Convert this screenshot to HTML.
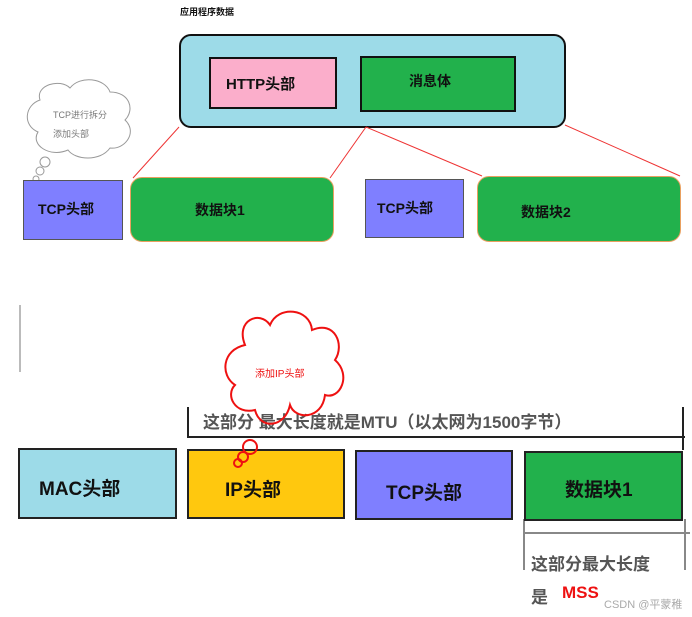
<!DOCTYPE html>
<html><head><meta charset="utf-8"><style>
body{margin:0;width:692px;height:617px;background:#fff;position:relative;overflow:hidden;font-family:"Liberation Sans","Noto Sans CJK SC",sans-serif;font-weight:bold}
.a{position:absolute;box-sizing:border-box}
.t{position:absolute;white-space:nowrap}
</style></head><body>
<div class="t" style="left:180px;top:5px;font-size:9px;color:#111">应用程序数据</div>
<div class="a" style="left:179px;top:34px;width:387px;height:94px;background:#9ddbe8;border:2px solid #111;border-radius:12px"></div>
<div class="a" style="left:209px;top:57px;width:128px;height:52px;background:#fbaecb;border:2px solid #111"></div>
<div class="t" style="left:226px;top:73px;font-size:15px;color:#111">HTTP头部</div>
<div class="a" style="left:360px;top:56px;width:156px;height:56px;background:#22b14c;border:2px solid #111"></div>
<div class="t" style="left:409px;top:71px;font-size:14px;color:#111">消息体</div>

<svg class="a" style="left:0;top:0" width="692" height="617">
<g stroke="#e33" stroke-width="1" fill="none">
<line x1="179" y1="127" x2="133" y2="178"/><line x1="366" y1="127" x2="330" y2="178"/>
<line x1="366" y1="127" x2="482" y2="176"/><line x1="565" y1="125" x2="680" y2="176"/>
</g>
<g fill="#fff" stroke="#999" stroke-width="1">
<path d="M40,100 C35,85 60,78 70,88 C80,75 105,78 110,92 C130,92 135,110 125,120 C138,132 125,150 110,148 C100,162 75,160 68,150 C50,158 30,145 38,132 C22,125 25,105 40,100 Z"/>
<circle cx="45" cy="162" r="5"/><circle cx="40" cy="171" r="4"/><circle cx="36" cy="179" r="3"/>
</g>
<g stroke="#222" stroke-width="2" fill="none">
<path d="M188,407 V437 M187,437 H685 M683,407 V450"/>
</g>
<g stroke="#888" stroke-width="2" fill="none">
<path d="M524,519 V570 M524,533 H690 M685,519 V570"/>
</g>
<line x1="20" y1="305" x2="20" y2="372" stroke="#bbb" stroke-width="2"/>
</svg>
<div class="t" style="left:53px;top:108px;font-size:9px;color:#777;font-weight:normal">TCP进行拆分</div>
<div class="t" style="left:53px;top:127px;font-size:9px;color:#777;font-weight:normal">添加头部</div>

<div class="a" style="left:23px;top:180px;width:100px;height:60px;background:#7f7fff;border:1px solid #555"></div>
<div class="t" style="left:38px;top:199px;font-size:14px;color:#111">TCP头部</div>
<div class="a" style="left:130px;top:177px;width:204px;height:65px;background:#22b14c;border:1px solid #e9a060;border-radius:12px"></div>
<div class="t" style="left:195px;top:200px;font-size:14px;color:#111">数据块1</div>
<div class="a" style="left:365px;top:179px;width:99px;height:59px;background:#7f7fff;border:1px solid #555"></div>
<div class="t" style="left:377px;top:198px;font-size:14px;color:#111">TCP头部</div>
<div class="a" style="left:477px;top:176px;width:204px;height:66px;background:#22b14c;border:1px solid #e9a060;border-radius:12px"></div>
<div class="t" style="left:521px;top:202px;font-size:14px;color:#111">数据块2</div>

<div class="t" style="left:203px;top:408px;font-size:17px;color:#555">这部分 最大长度就是MTU（以太网为1500字节）</div>

<div class="a" style="left:18px;top:448px;width:159px;height:71px;background:#9ddbe8;border:2px solid #222"></div>
<div class="t" style="left:39px;top:474px;font-size:19px;color:#111">MAC头部</div>
<div class="a" style="left:187px;top:449px;width:158px;height:70px;background:#ffc80e;border:2px solid #222"></div>
<div class="t" style="left:225px;top:475px;font-size:19px;color:#111">IP头部</div>
<div class="a" style="left:355px;top:450px;width:158px;height:70px;background:#7f7fff;border:2px solid #222"></div>
<div class="t" style="left:386px;top:478px;font-size:19px;color:#111">TCP头部</div>
<div class="a" style="left:524px;top:451px;width:159px;height:70px;background:#22b14c;border:2px solid #222"></div>
<div class="t" style="left:565px;top:475px;font-size:19px;color:#111">数据块1</div>

<svg class="a" style="left:0;top:0" width="692" height="617">
<g fill="none" stroke="#e11" stroke-width="2">
<path d="M245,345 C235,320 260,310 270,325 C278,305 310,308 312,330 C335,320 345,345 335,360 C352,375 340,400 325,395 C322,420 295,420 290,405 C285,428 260,430 255,410 C235,415 225,395 235,385 C220,375 222,350 245,345 Z"/>
<circle cx="250" cy="447" r="7"/><circle cx="243" cy="457" r="5"/><circle cx="238" cy="463" r="4"/>
</g>
</svg>
<div class="t" style="left:255px;top:365px;font-size:10px;color:#e11;font-weight:normal">添加IP头部</div>

<div class="t" style="left:531px;top:550px;font-size:17px;color:#555">这部分最大长度</div>
<div class="t" style="left:531px;top:583px;font-size:17px;color:#555">是</div>
<div class="t" style="left:562px;top:583px;font-size:17px;color:#e11">MSS</div>
<div class="t" style="left:604px;top:596px;font-size:11px;color:#aaa;font-weight:normal">CSDN @平蒙稚</div>
</body></html>
